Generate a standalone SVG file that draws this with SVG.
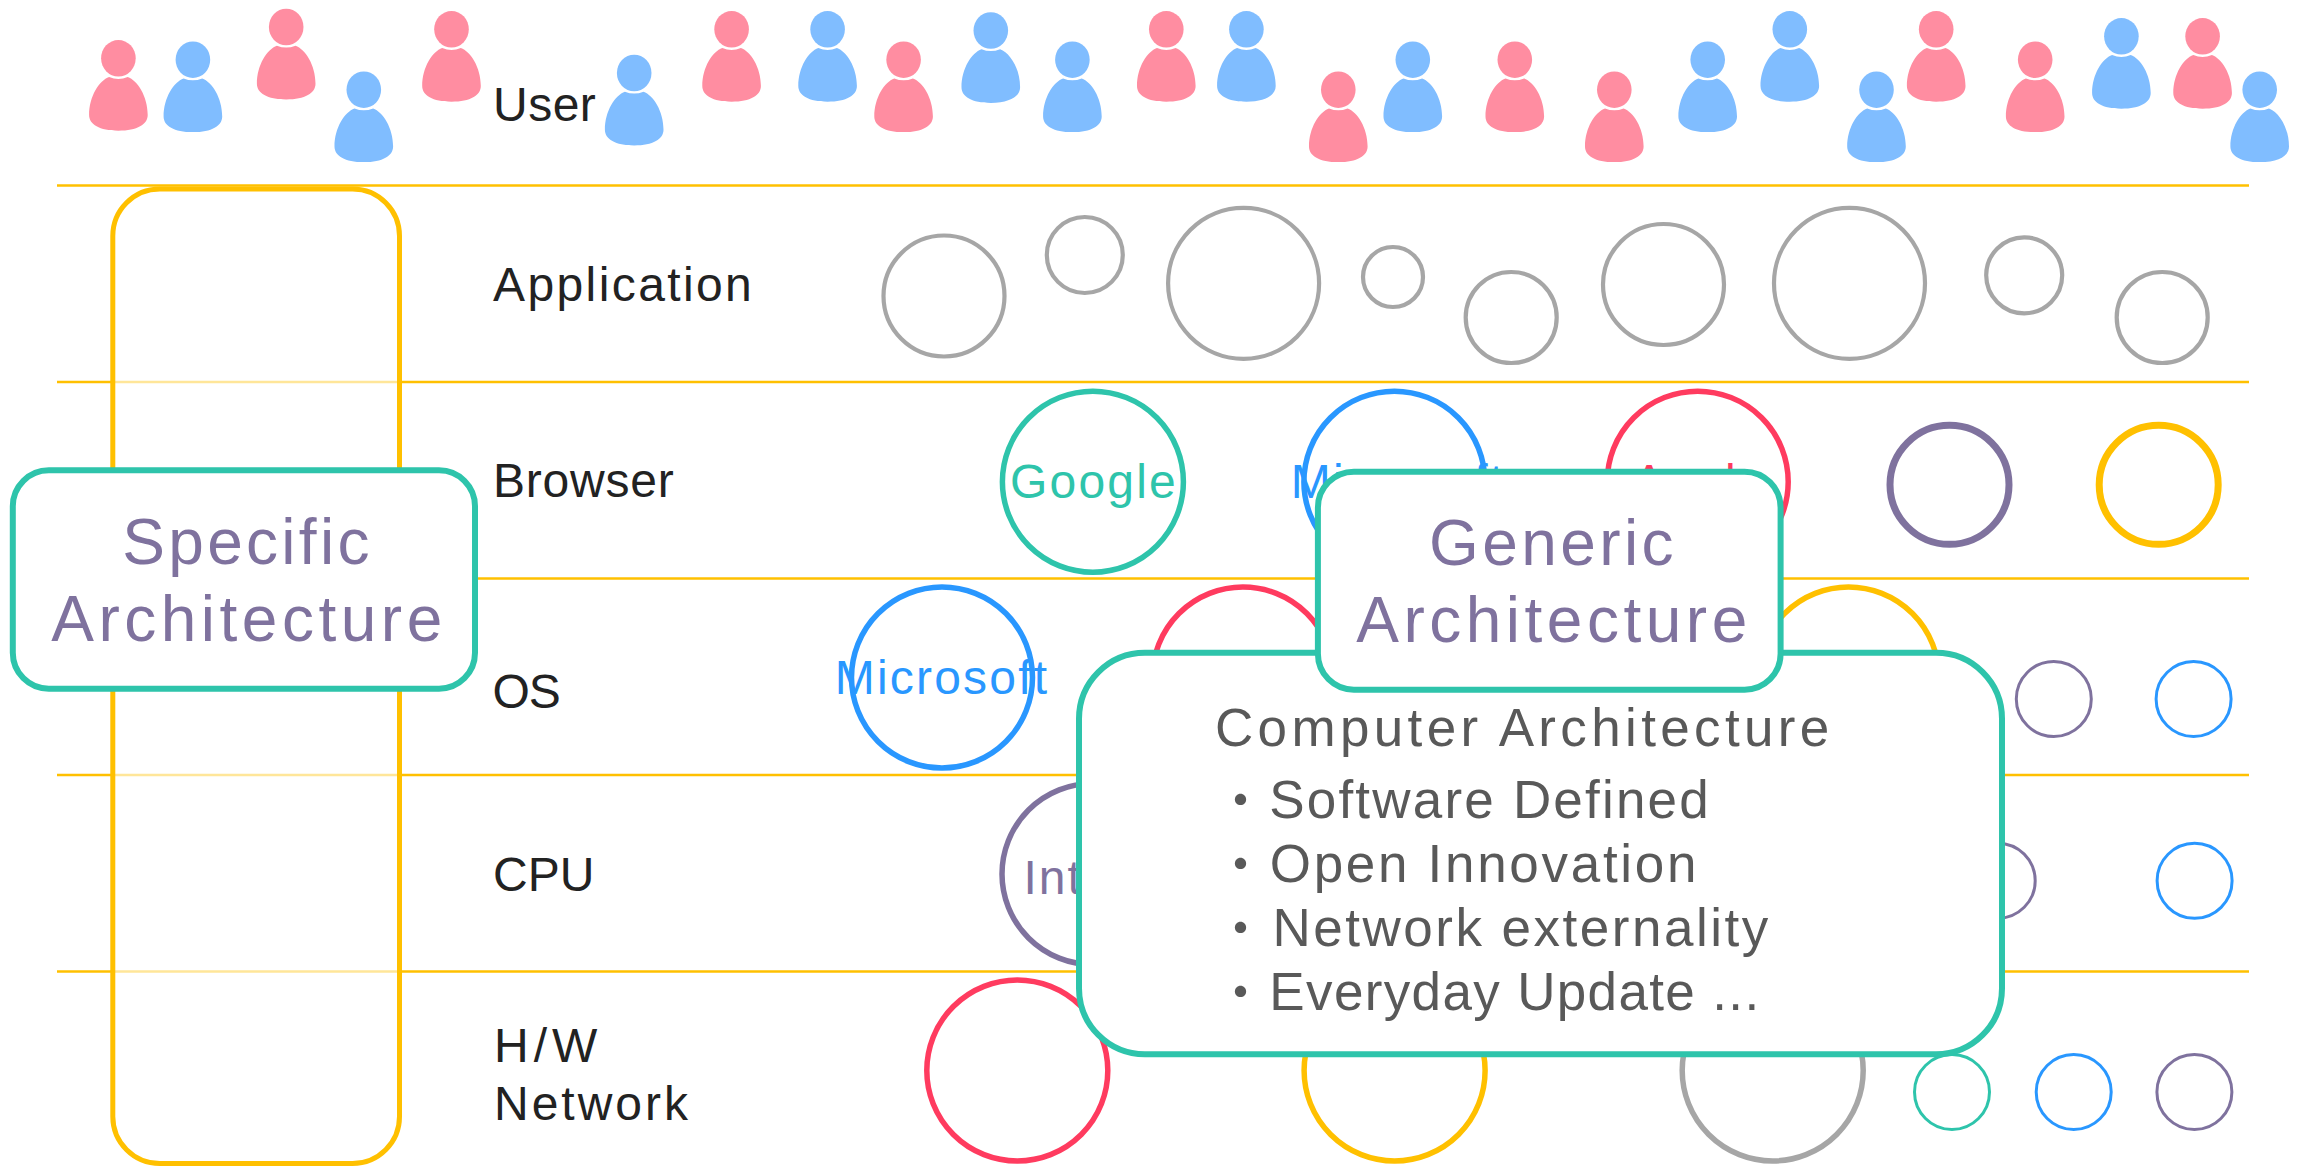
<svg xmlns="http://www.w3.org/2000/svg" width="2300" height="1167" viewBox="0 0 2300 1167">
<style>
text{font-family:"Liberation Sans","Noto Sans CJK JP",sans-serif}
.line{stroke:#FFC000;stroke-width:2.5;fill:none}
.pink{fill:#FF8DA1}.blue{fill:#80BDFF}
circle{fill:#fff}
.c{stroke-width:5.5}.cg{stroke-width:4.2}.cb{stroke-width:7}.cs{stroke-width:3}
.gray{stroke:#A6A6A6}.teal{stroke:#2EC4AB}.sky{stroke:#2997FF}.red{stroke:#FF3B5F}.pur{stroke:#7F729E}.yel{stroke:#FFC000}
.lab{font-size:48px;fill:#222}
.in{font-size:48px;letter-spacing:2.2px;text-anchor:middle}
.box{fill:#fff;stroke:#2EC4AB;stroke-width:6}
.hd{font-size:64px;fill:#7F729E;text-anchor:middle}
.tx{font-size:53px;fill:#595959}
</style>
<defs>
<g id="person">
<ellipse cx="0" cy="0" rx="17.3" ry="18.3"/>
<path d="M-9.3 18.7Q0 22.5 9.3 18.7C19 22 29.3 38 29.3 56.7C29.3 66 19 72.4 0 72.4C-19 72.4-29.3 66-29.3 56.7C-29.3 38-19 22-9.3 18.7Z"/>
</g>
</defs>
<rect width="2300" height="1167" fill="#fff"/>
<g id="connectors">
<line class="line" x1="57" x2="2249" y1="185.5" y2="185.5"/>
<line class="line" x1="57" x2="2249" y1="382" y2="382"/>
<line class="line" x1="57" x2="2249" y1="578.5" y2="578.5"/>
<line class="line" x1="57" x2="2249" y1="775" y2="775"/>
<line class="line" x1="57" x2="2249" y1="971.5" y2="971.5"/>
</g>
<g id="users">
<g id="user-1" class="pink"><use href="#person" x="118.4" y="58.3"/></g>
<g id="user-2" class="blue"><use href="#person" x="192.9" y="59.7"/></g>
<g id="user-3" class="pink"><use href="#person" x="286.2" y="27"/></g>
<g id="user-4" class="blue"><use href="#person" x="363.8" y="89.7"/></g>
<g id="user-5" class="pink"><use href="#person" x="451.5" y="29.3"/></g>
<g id="user-6" class="blue"><use href="#person" x="634.2" y="73"/></g>
<g id="user-7" class="pink"><use href="#person" x="731.6" y="29.3"/></g>
<g id="user-8" class="blue"><use href="#person" x="827.6" y="29.3"/></g>
<g id="user-9" class="pink"><use href="#person" x="903.6" y="59.7"/></g>
<g id="user-10" class="blue"><use href="#person" x="990.8" y="30.5"/></g>
<g id="user-11" class="blue"><use href="#person" x="1072.4" y="59.7"/></g>
<g id="user-12" class="pink"><use href="#person" x="1166.3" y="29.3"/></g>
<g id="user-13" class="blue"><use href="#person" x="1246.4" y="29.3"/></g>
<g id="user-14" class="pink"><use href="#person" x="1338.3" y="89.7"/></g>
<g id="user-15" class="blue"><use href="#person" x="1412.8" y="59.7"/></g>
<g id="user-16" class="pink"><use href="#person" x="1514.8" y="59.7"/></g>
<g id="user-17" class="pink"><use href="#person" x="1614.3" y="89.7"/></g>
<g id="user-18" class="blue"><use href="#person" x="1707.7" y="59.7"/></g>
<g id="user-19" class="blue"><use href="#person" x="1789.8" y="29.3"/></g>
<g id="user-20" class="blue"><use href="#person" x="1876.5" y="89.7"/></g>
<g id="user-21" class="pink"><use href="#person" x="1936.2" y="29.3"/></g>
<g id="user-22" class="pink"><use href="#person" x="2035.2" y="59.7"/></g>
<g id="user-23" class="blue"><use href="#person" x="2121.4" y="36.3"/></g>
<g id="user-24" class="pink"><use href="#person" x="2202.6" y="36.3"/></g>
<g id="user-25" class="blue"><use href="#person" x="2259.7" y="89.7"/></g>
</g>
<g id="labels">
<text id="label-user" class="lab" x="493" y="120.7" letter-spacing="0.5">User</text>
<text id="label-application" class="lab" x="493" y="301" letter-spacing="2.4">Application</text>
<text id="label-browser" class="lab" x="493" y="497" letter-spacing="0.8">Browser</text>
<text id="label-os" class="lab" x="492.5" y="708" letter-spacing="-1">OS</text>
<text id="label-cpu" class="lab" x="493" y="891" letter-spacing="0">CPU</text>
<text id="label-hw" class="lab" x="494" y="1062" letter-spacing="5">H/W</text>
<text id="label-network" class="lab" x="494" y="1119.7" letter-spacing="3">Network</text>
</g>
<g id="apps">
<circle class="cg gray" cx="944" cy="296" r="60.5"/>
<circle class="cg gray" cx="1084.8" cy="255" r="38"/>
<circle class="cg gray" cx="1243.6" cy="283.3" r="75.5"/>
<circle class="cg gray" cx="1393" cy="277" r="30"/>
<circle class="cg gray" cx="1511.2" cy="317.5" r="45.5"/>
<circle class="cg gray" cx="1663.5" cy="284.5" r="60.5"/>
<circle class="cg gray" cx="1849.5" cy="283.3" r="75.5"/>
<circle class="cg gray" cx="2024.2" cy="275.3" r="38"/>
<circle class="cg gray" cx="2162.2" cy="317.5" r="45.5"/>
</g>
<g id="browsers">
<g id="browser-google"><circle class="c teal" cx="1092.9" cy="481.7" r="90.5"/><text class="in" x="1094" y="497.7" fill="#2EC4AB">Google</text></g>
<g id="browser-microsoft"><circle class="c sky" cx="1394.4" cy="481.7" r="90.5"/><text class="in" x="1398" y="497.7" fill="#2997FF">Microsoft</text></g>
<g id="browser-apple"><circle class="c red" cx="1697.7" cy="481.7" r="90.5"/><text class="in" x="1700" y="497.7" fill="#FF3B5F">Apple</text></g>
<g id="browser-4"><circle class="cb pur" cx="1949.5" cy="484.8" r="59.5"/></g>
<g id="browser-5"><circle class="cb yel" cx="2158.7" cy="484.8" r="59.5"/></g>
</g>
<g id="os">
<g id="os-microsoft"><circle class="c sky" cx="942" cy="677.5" r="90.5"/><text class="in" x="942" y="694" fill="#2997FF">Microsoft</text></g>
<g id="os-2"><circle class="c red" cx="1242.9" cy="677.5" r="90.5"/></g>
<g id="os-3"><circle class="c yel" cx="1848.5" cy="677.5" r="90.5"/></g>
<g id="os-4"><circle class="cs pur" cx="2053.8" cy="699" r="37.5"/></g>
<g id="os-5"><circle class="cs sky" cx="2193.6" cy="699" r="37.5"/></g>
</g>
<g id="cpu">
<g id="cpu-intel"><circle class="c pur" cx="1092.5" cy="874" r="90.5"/><text x="1023.5" y="893.7" font-size="48" letter-spacing="2" fill="#7F729E">Intel</text></g>
<g id="cpu-2"><circle class="cs pur" cx="1997.7" cy="880.7" r="37.5"/></g>
<g id="cpu-3"><circle class="cs sky" cx="2194.6" cy="880.8" r="37.5"/></g>
</g>
<g id="hw">
<g id="hw-1"><circle class="c red" cx="1017.3" cy="1070.5" r="90.5"/></g>
<g id="hw-2"><circle class="c yel" cx="1394.6" cy="1070.5" r="90.5"/></g>
<g id="hw-3"><circle class="c gray" cx="1772.7" cy="1070.5" r="90.5"/></g>
<g id="hw-4"><circle class="cs teal" cx="1952" cy="1092" r="37.5"/></g>
<g id="hw-5"><circle class="cs sky" cx="2073.7" cy="1092" r="37.5"/></g>
<g id="hw-6"><circle class="cs pur" cx="2194.4" cy="1092" r="37.5"/></g>
</g>
<g id="specific-stack"><rect x="112.8" y="189" width="286.7" height="974.5" rx="47" ry="47" fill="#fff" fill-opacity="0.6" stroke="#FFC000" stroke-width="5"/></g>
<g id="specific-architecture">
<rect class="box" x="12.8" y="470.3" width="462.2" height="218.4" rx="36" ry="36"/>
<text class="hd" x="247.5" y="564" letter-spacing="3.3">Specific</text>
<text class="hd" x="249" y="640.7" letter-spacing="4.5">Architecture</text>
</g>
<g id="computer-architecture">
<rect class="box" x="1079" y="652.7" width="923" height="401.6" rx="66" ry="66"/>
<text x="1215" y="745.5" font-size="53" letter-spacing="4.35" fill="#595959">Computer Architecture</text>
<text class="tx" x="1214" y="817.7" letter-spacing="2.2"><tspan dy="2">・</tspan><tspan dy="-2">Software Defined</tspan></text>
<text class="tx" x="1214" y="882" letter-spacing="2.7"><tspan dy="2">・</tspan><tspan dy="-2">Open Innovation</tspan></text>
<text class="tx" x="1214" y="946" letter-spacing="2.5"><tspan dy="2">・</tspan><tspan dx="3" dy="-2">Network externality</tspan></text>
<text class="tx" x="1214" y="1010.3" letter-spacing="1.35"><tspan dy="2">・</tspan><tspan dx="1" dy="-2">Everyday Update ...</tspan></text>
</g>
<g id="generic-architecture">
<rect class="box" x="1317.9" y="471.7" width="462.7" height="218" rx="36" ry="36"/>
<text class="hd" x="1553" y="565" letter-spacing="3.4">Generic</text>
<text class="hd" x="1554" y="641.7" letter-spacing="4.5">Architecture</text>
</g>
</svg>
